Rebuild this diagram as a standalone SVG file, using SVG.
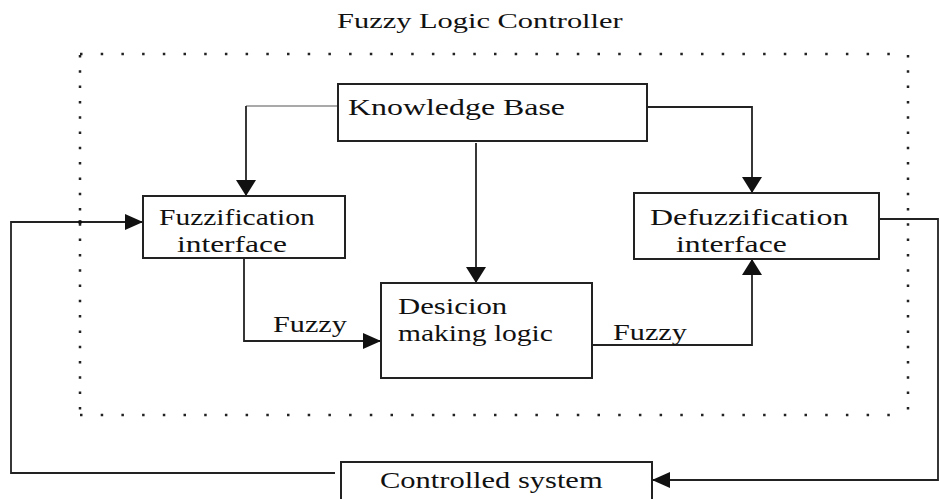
<svg xmlns="http://www.w3.org/2000/svg" width="940" height="499" viewBox="0 0 940 499">
<style>
.bg{fill:#fff}
.box{fill:#fff;stroke:#222;stroke-width:2}
.t{font-family:"Liberation Serif","Times New Roman",serif;fill:#111;font-size:24px}
.title{font-size:21px}
.ln{fill:none;stroke:#222;stroke-width:1.8}
.thin{fill:none;stroke:#555;stroke-width:1.2}
.doth{fill:none;stroke:#222;stroke-width:2.5;stroke-dasharray:2.5 18.2}
.dotv{fill:none;stroke:#222;stroke-width:2.5;stroke-dasharray:2.5 12.8}
</style>
<defs>
<marker id="ah" viewBox="0 0 16 20" refX="16" refY="10" markerWidth="16" markerHeight="20" markerUnits="userSpaceOnUse" orient="auto">
<path d="M0,0 L16,10 L0,20 z" fill="#111"/>
</marker>
<marker id="ahs" viewBox="0 0 18 16" refX="18" refY="8" markerWidth="18" markerHeight="16" markerUnits="userSpaceOnUse" orient="auto">
<path d="M0,0 L18,8 L0,16 z" fill="#111"/>
</marker>
</defs>
<rect class="bg" x="0" y="0" width="940" height="499"/>
<text class="t title" transform="translate(337,28) scale(1.45,1)">Fuzzy Logic Controller</text>
<g id="controller-boundary">
<path class="doth" d="M80,54 H908"/>
<path class="doth" d="M80,415 H908"/>
<path class="dotv" d="M80,55 V415"/>
<path class="dotv" d="M908,55 V415"/>
</g>
<g id="connectors">
<path class="thin" d="M338,106 H246"/>
<path class="ln" d="M246,106 V196" marker-end="url(#ah)"/>
<path class="ln" d="M476,143 V283" marker-end="url(#ah)"/>
<path class="ln" d="M647,107 H752 V193" marker-end="url(#ah)"/>
<path class="ln" d="M244,258 V341 H381" marker-end="url(#ahs)"/>
<path class="ln" d="M592,345 H752 V259" marker-end="url(#ah)"/>
<path class="ln" d="M879,219 H938 V480 H652" marker-end="url(#ahs)"/>
<path class="ln" d="M335,473 H11 V222 H143" marker-end="url(#ahs)"/>
<circle cx="80" cy="222" r="2" fill="#111"/>
</g>
<g id="knowledge-base">
<rect class="box" x="338" y="84" width="309" height="57"/>
<text class="t" transform="translate(348,115) scale(1.33,1)">Knowledge Base</text>
</g>
<g id="fuzzification">
<rect class="box" x="143" y="196" width="202" height="62"/>
<text class="t" transform="translate(159,225) scale(1.23,1)">Fuzzification</text>
<text class="t" transform="translate(177,252) scale(1.31,1)">interface</text>
</g>
<g id="defuzzification">
<rect class="box" x="634" y="193" width="245" height="66"/>
<text class="t" transform="translate(650,225) scale(1.33,1)">Defuzzification</text>
<text class="t" transform="translate(676,252) scale(1.32,1)">interface</text>
</g>
<g id="decision">
<rect class="box" x="381" y="283" width="211" height="95"/>
<text class="t" transform="translate(398,314) scale(1.28,1)">Desicion</text>
<text class="t" transform="translate(398,341) scale(1.23,1)">making logic</text>
</g>
<g id="labels">
<text class="t" transform="translate(273,332) scale(1.26,1)">Fuzzy</text>
<text class="t" transform="translate(613,340) scale(1.26,1)">Fuzzy</text>
</g>
<g id="controlled-system">
<rect class="box" x="341" y="462" width="311" height="50"/>
<text class="t" transform="translate(380,488) scale(1.27,1)">Controlled system</text>
</g>
</svg>
